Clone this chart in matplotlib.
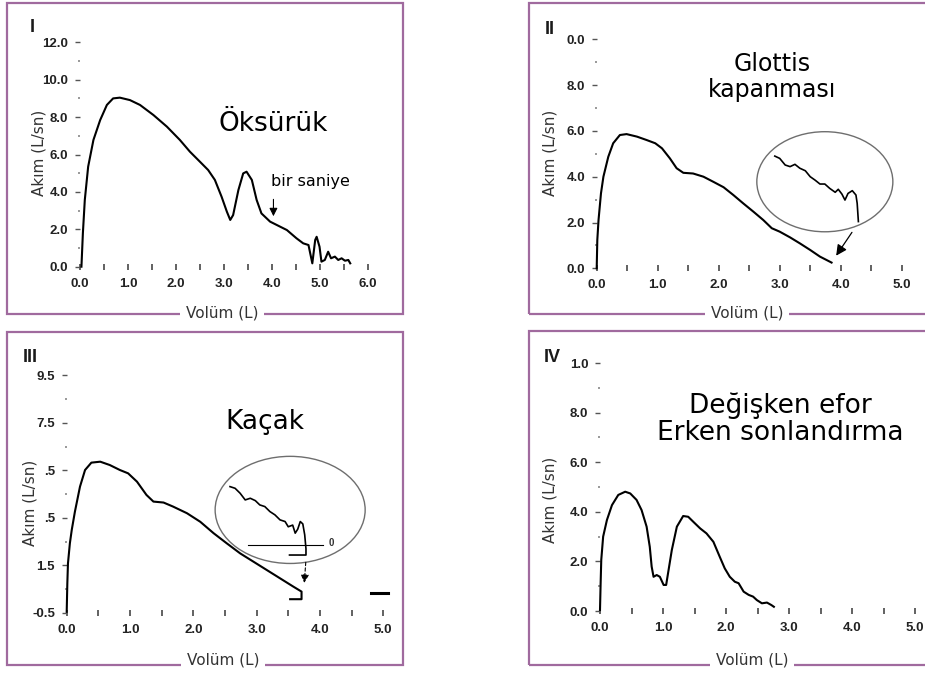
import numpy as np
import matplotlib.pyplot as plt
from matplotlib.patches import Rectangle, Ellipse

# ---- values ----
# I: cough
vol_1 = [0.03, 0.06, 0.10, 0.17, 0.28, 0.42, 0.56, 0.69, 0.83, 1.04, 1.25, 1.53, 1.81,
         2.08, 2.29, 2.50, 2.67, 2.81, 2.95, 3.06, 3.13, 3.19, 3.30, 3.40, 3.47, 3.58,
         3.68, 3.78, 3.96, 4.17, 4.31, 4.51, 4.65, 4.76, 4.84, 4.90, 4.93, 4.99, 5.03,
         5.10, 5.17, 5.23, 5.31, 5.38, 5.45, 5.52, 5.59, 5.63]
flow_1 = [0.0, 1.79, 3.57, 5.35, 6.78, 7.84, 8.65, 9.00, 9.04, 8.91, 8.65, 8.11, 7.49,
          6.78, 6.15, 5.61, 5.17, 4.64, 3.74, 2.94, 2.50, 2.76, 4.10, 4.99, 5.08, 4.64,
          3.57, 2.85, 2.41, 2.14, 1.96, 1.52, 1.25, 1.16, 0.18, 1.43, 1.60, 1.07, 0.27,
          0.36, 0.80, 0.45, 0.54, 0.36, 0.45, 0.32, 0.36, 0.18]

# II: glottis closure
vol_2 = [0.0, 0.01, 0.03, 0.07, 0.11, 0.19, 0.27, 0.38, 0.49, 0.66, 0.82, 0.96, 1.07,
         1.20, 1.31, 1.42, 1.58, 1.75, 1.91, 2.08, 2.24, 2.40, 2.57, 2.73, 2.87, 3.00,
         3.17, 3.33, 3.50, 3.66, 3.77, 3.85]
flow_2 = [0.0, 1.24, 2.11, 3.27, 4.00, 4.87, 5.46, 5.82, 5.86, 5.75, 5.60, 5.46, 5.24,
          4.80, 4.37, 4.17, 4.14, 4.00, 3.78, 3.54, 3.20, 2.84, 2.47, 2.11, 1.75, 1.60,
          1.35, 1.09, 0.80, 0.51, 0.36, 0.25]
zoom_vol_2 = [2.92, 3.00, 3.09, 3.17, 3.25, 3.33, 3.42, 3.50, 3.58, 3.66, 3.74, 3.82,
              3.91, 3.96, 4.02, 4.07, 4.12, 4.19, 4.25, 4.27, 4.29]
zoom_flow_2 = [4.90, 4.80, 4.51, 4.44, 4.54, 4.37, 4.26, 4.00, 3.85, 3.68, 3.68, 3.49,
               3.32, 3.45, 3.24, 2.98, 3.27, 3.39, 3.20, 2.84, 2.04]

# III: leak
vol_3 = [0.0, 0.01, 0.02, 0.05, 0.08, 0.13, 0.21, 0.29, 0.39, 0.53, 0.68, 0.84, 0.97,
         1.11, 1.26, 1.37, 1.53, 1.68, 1.90, 2.11, 2.32, 2.53, 2.74, 2.95, 3.16, 3.37,
         3.58, 3.71, 3.71, 3.53]
flow_3 = [-0.45, 0.75, 1.59, 2.43, 3.00, 3.77, 4.82, 5.52, 5.83, 5.87, 5.73, 5.52, 5.38,
          5.03, 4.47, 4.19, 4.15, 3.98, 3.70, 3.34, 2.86, 2.43, 2.01, 1.66, 1.31, 0.96,
          0.61, 0.40, 0.08, 0.08]
zoom_vol_3 = [2.58, 2.66, 2.74, 2.82, 2.90, 2.98, 3.05, 3.13, 3.21, 3.29, 3.37, 3.45,
              3.50, 3.57, 3.61, 3.65, 3.69, 3.73, 3.76, 3.78, 3.78, 3.52]
zoom_flow_3 = [4.82, 4.75, 4.54, 4.26, 4.33, 4.23, 4.05, 3.98, 3.77, 3.63, 3.42, 3.35,
               3.13, 3.20, 2.86, 3.03, 3.35, 3.25, 2.79, 2.20, 1.94, 1.94]

# IV: variable effort / early termination
vol_4 = [0.0, 0.01, 0.02, 0.05, 0.11, 0.19, 0.29, 0.40, 0.48, 0.58, 0.66, 0.74, 0.79,
         0.82, 0.85, 0.90, 0.95, 1.01, 1.05, 1.08, 1.14, 1.22, 1.32, 1.40, 1.48, 1.59,
         1.69, 1.80, 1.90, 1.98, 2.06, 2.14, 2.20, 2.28, 2.36, 2.43, 2.49, 2.57, 2.65,
         2.72, 2.76]
flow_4 = [0.04, 1.12, 2.06, 3.00, 3.67, 4.27, 4.68, 4.81, 4.74, 4.48, 4.07, 3.40, 2.59,
          1.79, 1.38, 1.45, 1.38, 1.05, 1.05, 1.52, 2.46, 3.40, 3.83, 3.80, 3.60, 3.33,
          3.13, 2.79, 2.19, 1.72, 1.38, 1.18, 1.12, 0.78, 0.65, 0.58, 0.44, 0.31, 0.34,
          0.24, 0.17]

yticks_1 = [0, 2, 4, 6, 8, 10, 12]
ylabels_1 = ["0.0", "2.0", "4.0", "6.0", "8.0", "10.0", "12.0"]
yticks_2 = [0, 2, 4, 6, 8, 10]
ylabels_2 = ["0.0", "2.0", "4.0", "6.0", "8.0", "0.0"]
yticks_3 = [-0.5, 1.5, 3.5, 5.5, 7.5, 9.5]
ylabels_3 = ["-0.5", "1.5", ".5", ".5", "7.5", "9.5"]
yticks_4 = [0, 2, 4, 6, 8, 10]
ylabels_4 = ["0.0", "2.0", "4.0", "6.0", "8.0", "1.0"]

W, H = 925, 673
fig = plt.figure(figsize=(W / 100, H / 100), dpi=100)
fig.patch.set_facecolor("white")

frame_col = "#a06a9e"
tick_font = dict(family="Liberation Sans", weight="bold", size=9.5, color="#222222")


def panel(x0, sx, y0, sy, xlim, ylim):
    # x0/y0: pixel of data origin (y from top), sx/sy: pixels per unit
    left = x0 + xlim[0] * sx
    right = x0 + xlim[1] * sx
    top = y0 - ylim[1] * sy
    bottom = y0 - ylim[0] * sy
    ax = fig.add_axes([left / W, 1 - bottom / H, (right - left) / W, (bottom - top) / H])
    ax.set_xlim(xlim)
    ax.set_ylim(ylim)
    ax.patch.set_alpha(0)
    return ax


def style(ax, xmax, yticks, ylabels, axis_y):
    for s in ax.spines.values():
        s.set_visible(False)
    ax.spines["bottom"].set_position(("data", axis_y))
    ax.spines["left"].set_position(("data", 0))
    ax.set_xticks(np.arange(0, xmax + 0.1, 1.0))
    ax.set_xticklabels([f"{v:.1f}" for v in np.arange(0, xmax + 0.1, 1.0)], fontdict=tick_font)
    ax.set_xticks(np.arange(0.5, xmax, 1.0), minor=True)
    ax.set_yticks(yticks)
    ax.set_yticklabels(ylabels, fontdict=tick_font)
    ax.set_yticks([(a + b) / 2 for a, b in zip(yticks[:-1], yticks[1:])], minor=True)
    ax.tick_params(axis="x", which="both", direction="inout", length=4, width=1.3,
                   color="#555555", pad=6)
    ax.tick_params(axis="y", which="major", direction="out", length=3.5, width=1.0,
                   color="#555555", pad=5)
    ax.tick_params(axis="y", which="minor", direction="out", length=1.2, width=1.2,
                   color="#888888")


def frame(x1, y1, x2, y2):
    fig.add_artist(Rectangle((x1 / W, 1 - y2 / H), (x2 - x1) / W, (y2 - y1) / H,
                             transform=fig.transFigure, fill=False, ec=frame_col, lw=1.6))


def ftext(x, y, s, **kw):
    fig.text(x / W, 1 - y / H, s, ha="center", va="center", **kw)


label_kw = dict(family="DejaVu Sans", size=11, color="#333333")
big_kw = dict(family="DejaVu Sans", size=19, color="black")
curve_kw = dict(color="black", lw=1.5, clip_on=False, solid_joinstyle="round")

frame(7, 3, 403, 314)
frame(529, 3, 940, 314)
frame(7, 332, 403, 665)
frame(529, 331, 940, 665)

# ---- I ----
ax1 = panel(80, 48, 266.7, 18.7, (-0.3, 6.4), (-0.5, 12.7))
style(ax1, 6.0, yticks_1, ylabels_1, 0)
ax1.plot(vol_1, flow_1, **curve_kw)
ax1.annotate("", xy=(4.03, 2.55), xytext=(4.03, 3.75),
             arrowprops=dict(arrowstyle="-|>", color="black", lw=0.8, mutation_scale=12))
ftext(310, 182, "bir saniye", family="DejaVu Sans", size=11.5, color="black")
ftext(273, 124, "Öksürük", **big_kw)

# ---- II ----
ax2 = panel(596.7, 61, 268.3, 22.9, (-0.3, 5.4), (-0.5, 10.4))
style(ax2, 5.0, yticks_2, ylabels_2, 0)
ax2.plot(vol_2, flow_2, **curve_kw)
ax2.add_patch(Ellipse((3.74, 3.78), 2.23, 4.37, fill=False, ec="#6e6e6e", lw=1.0))
ax2.plot(zoom_vol_2, zoom_flow_2, color="black", lw=1.2)
ax2.annotate("", xy=(3.9, 0.45), xytext=(4.21, 1.67),
             arrowprops=dict(arrowstyle="-|>", color="black", lw=0.9, mutation_scale=16))
ftext(772, 77, "Glottis\nkapanması", linespacing=1.1, family="DejaVu Sans", size=17,
      color="black")

# ---- III ----
ax3 = panel(66.7, 63.3, 601.1, 23.75, (-0.3, 5.4), (-1.0, 10.1))
style(ax3, 5.0, yticks_3, ylabels_3, -0.5)
ax3.plot(vol_3, flow_3, **curve_kw)
ax3.plot([4.81, 5.07], [0.33, 0.33], color="black", lw=2.2)
ax3.add_patch(Ellipse((3.53, 3.84), 2.37, 4.51, fill=False, ec="#6e6e6e", lw=1.0))
ax3.plot(zoom_vol_3, zoom_flow_3, color="black", lw=1.2)
ax3.plot([2.87, 4.05], [2.36, 2.36], color="black", lw=0.8)
ax3.text(4.13, 2.45, "0", family="Liberation Sans", weight="bold", size=7, color="#333333",
         va="center")
ax3.annotate("", xy=(3.75, 0.65), xytext=(3.78, 1.75),
             arrowprops=dict(arrowstyle="-|>", color="black", lw=0.8, mutation_scale=12,
                             linestyle=(0, (3, 2))))
ftext(265, 422, "Kaçak", **big_kw)

# ---- IV ----
ax4 = panel(600, 63, 611, 24.8, (-0.3, 5.4), (-0.5, 10.5))
style(ax4, 5.0, yticks_4, ylabels_4, 0)
ax4.plot(vol_4, flow_4, **curve_kw)
ftext(780, 419, "Değişken efor\nErken sonlandırma", linespacing=1.05, **big_kw)

# ---- panel tags and axis titles ----
tag_kw = dict(family="Liberation Sans", weight="bold", size=13, color="#1a1a1a")
ftext(32, 27, "I", **tag_kw)
ftext(550, 29, "II", **tag_kw)
ftext(30, 357, "III", **tag_kw)
ftext(552, 357, "IV", **tag_kw)

for x, y in [(39, 153), (550, 153), (30, 503), (550, 500)]:
    ftext(x, y, "Akım (L/sn)", rotation=90, **label_kw)

box = dict(facecolor="white", edgecolor="none", pad=4)
for x, y in [(222, 313), (747, 313), (223, 660), (752, 660)]:
    ftext(x, y, "Volüm (L)", bbox=box, zorder=5, **label_kw)

fig.savefig("out.png", dpi=100, facecolor="white")
